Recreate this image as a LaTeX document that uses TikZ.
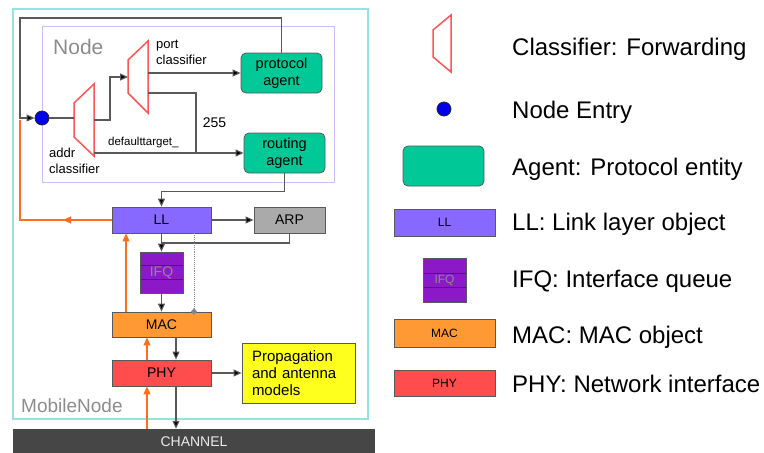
\documentclass[tikz,border=0pt]{standalone}
\usepackage{fontspec}
\setmainfont{Liberation Sans}
\usetikzlibrary{positioning,arrows.meta}

\definecolor{mobilecyan}{RGB}{150,225,225}
\definecolor{nodelilac}{RGB}{205,190,250}
\definecolor{classred}{RGB}{255,85,85}
\definecolor{entryblue}{RGB}{0,0,235}
\definecolor{agentgreen}{RGB}{0,200,150}
\definecolor{llblue}{RGB}{135,105,255}
\definecolor{arpgrey}{RGB}{170,170,170}
\definecolor{ifqpurple}{RGB}{140,25,200}
\definecolor{macorange}{RGB}{255,153,51}
\definecolor{phyred}{RGB}{255,77,77}
\definecolor{propyellow}{RGB}{255,255,30}
\definecolor{uporange}{RGB}{255,110,30}
\definecolor{chandark}{RGB}{70,70,70}

\begin{document}
\begin{tikzpicture}[x=1pt,y=-1pt,
  box/.style={draw=black!65,line width=0.8pt,minimum width=99pt,minimum height=26pt,inner sep=0pt,font=\fontsize{14}{16}\selectfont},
  agent/.style={box,fill=agentgreen,rounded corners=5pt,minimum width=81pt,minimum height=40pt,align=center,font=\fontsize{14.5}{17}\selectfont},
  queue/.style={box,fill=ifqpurple,minimum width=43pt,minimum height=41pt,text=black!45,
    path picture={\draw[black!80,line width=0.8pt] ([yshift=7pt]path picture bounding box.west) -- ([yshift=7pt]path picture bounding box.east);
      \draw[black!80,line width=0.8pt] ([yshift=-7pt]path picture bounding box.west) -- ([yshift=-7pt]path picture bounding box.east);}},
  entrydot/.style={circle,draw=black!85,line width=0.8pt,fill=entryblue,minimum size=14pt,inner sep=0pt},
  classifier/.style={draw=classred,line width=1.5pt,line join=miter},
  wire/.style={draw=black!65,line width=1.1pt},
  flow/.style={wire,-{Triangle[length=8pt,width=7pt,fill=black]}},
  upflow/.style={draw=uporange,line width=1.1pt,-{Triangle[length=8pt,width=7pt]}},
  tag/.style={font=\fontsize{13}{16}\selectfont,align=left,inner sep=0pt},
  legendtext/.style={anchor=base west,font=\fontsize{24}{28}\selectfont,inner sep=0pt}]

\useasboundingbox (0,0) rectangle (764,453);

% Frames of the mobile node and of the node
\draw[mobilecyan,line width=1.2pt] (13,9) rectangle (368,419);
\draw[nodelilac,line width=1pt] (42,26) rectangle (334,182);
\node[anchor=west,text=black!45,font=\fontsize{21}{24}\selectfont,inner sep=0pt] (nodelabel) at (53,47) {Node};
\node[anchor=west,text=black!45,font=\fontsize{19}{22}\selectfont,inner sep=0pt] (mobilelabel) at (21,406) {MobileNode};

% Classifiers
\draw[classifier] (74,103) -- (94,84) -- (94,156) -- (74,137) -- cycle;
\draw[classifier] (128,60) -- (148,41) -- (148,113) -- (128,93) -- cycle;
\coordinate (addr-in) at (74,118);
\coordinate (addr-out) at (94,120);
\coordinate (addr-def) at (94,153);
\coordinate (port-in) at (128,77);
\coordinate (port-out) at (148,73);
\coordinate (port-low) at (148,93);
\coordinate (join) at (196,153);
\node[tag,anchor=west] (porttag) at (156,52) {port\\classifier};
\node[tag,anchor=west] (addrtag) at (49,161) {addr\\classifier};

% Entry and agents
\node[entrydot] (entry) at (42,118) {};
\node[agent] (protocol) at (281.5,73) {protocol\\agent};
\node[agent] (routing) at (284.5,153) {routing\\agent};

% Link layer stack
\node[box,fill=llblue] (LL) at (161.5,220) {LL};
\node[box,fill=arpgrey,minimum width=71pt] (ARP) at (289.5,220) {ARP};
\node[queue] (IFQ) at (161.5,272.5) {IFQ};
\node[box,fill=macorange,minimum height=25pt] (MAC) at (161.5,324.5) {MAC};
\node[box,fill=phyred] (PHY) at (161.5,373) {PHY};
\node[box,fill=propyellow,minimum width=113pt,minimum height=60pt,align=left,text width=93pt,font=\fontsize{15}{17}\selectfont] (prop) at (298.5,373) {Propagation\\and antenna\\models};
\node[fill=chandark,minimum width=362pt,minimum height=26pt,inner sep=0pt,text=black!8,font=\fontsize{14}{16}\selectfont] (channel) at (194,442) {CHANNEL};

% Orange path back to the entry
\coordinate (upturn) at (20,220);
\coordinate (uptop) at (20,120);
\coordinate (uparrow) at (63,220);
\draw[uporange,line width=1.1pt] (LL.west) -- (upturn) -- (uptop);
\draw[upflow] (LL.west) -- (uparrow);

% Connectors inside the node
\coordinate (loop) at (20,18);
\draw[flow] (protocol.north) |- (loop) |- (entry.west);
\draw[wire] (entry.east) -- (addr-in);
\draw[flow] (addr-out) -- ++(16,0) |- (port-in);
\draw[flow] (port-out) -- (protocol.west);
\draw[wire] (port-low) -| (join) node[pos=0.75,right=3pt,font=\fontsize{14}{16}\selectfont] {255};
\draw[flow] (addr-def) -- (routing.west) node[pos=0.33,above=1pt,font=\fontsize{11.5}{13}\selectfont] {defaulttarget\_};

% Connectors down the stack
\coordinate (arpjoin) at (161.5,243);
\draw[flow] (routing.south) -- ++(0,18) -| (LL.north);
\draw[flow] (LL.east) -- (ARP.west);
\draw[wire] (ARP.south) |- (arpjoin);
\draw[flow] (LL.south) -- (IFQ.north);
\draw[flow] (IFQ.south) -- (MAC.north);
\draw[black!45,densely dotted,line width=0.9pt,shorten >=-3.5pt,-{Diamond[length=7pt,width=6pt,fill=black!50]}] ([xshift=32.5pt]LL.south) -- ([xshift=32.5pt]MAC.north);
\draw[upflow] ([xshift=-35.5pt]MAC.north) -- ([xshift=-35.5pt]LL.south);
\draw[flow] ([xshift=14.5pt]MAC.south) -- ([xshift=14.5pt]PHY.north);
\draw[upflow] ([xshift=-14.5pt]PHY.north) -- ([xshift=-14.5pt]MAC.south);
\coordinate (phyin) at ([xshift=-14.5pt]PHY.south);
\coordinate (phyout) at ([xshift=14.5pt]PHY.south);
\draw[upflow] (phyin |- channel.north) -- (phyin);
\draw[flow] (phyout) -- (phyout |- channel.north);
\draw[flow] (PHY.east) -- (prop.west);

% Legend
\draw[classifier] (433,30) -- (451,15) -- (451,72) -- (433,57) -- cycle;
\node[entrydot] (legentry) at (444,109) {};
\node[agent] (legagent) at (443.5,166) {};
\node[box,fill=llblue,minimum width=101pt,minimum height=27pt,font=\fontsize{12}{14}\selectfont] (legLL) at (444.5,222.5) {LL};
\node[queue,minimum height=44pt,font=\fontsize{12}{14}\selectfont] (legIFQ) at (444.5,280) {IFQ};
\node[box,fill=macorange,minimum width=101pt,minimum height=28pt,font=\fontsize{12}{14}\selectfont] (legMAC) at (444.5,333) {MAC};
\node[box,fill=phyred,minimum width=101pt,minimum height=26pt,font=\fontsize{12}{14}\selectfont] (legPHY) at (444.5,383) {PHY};
\foreach \i/\y/\txt in {1/55/{Classifier: Forwarding},2/118/{Node Entry},3/175/{Agent: Protocol entity},
    4/230/{LL: Link layer object},5/287/{IFQ: Interface queue},6/343/{MAC: MAC object},7/392/{PHY: Network interface}}
    \node[legendtext] (legtext\i) at (512,\y) {\txt};
\end{tikzpicture}
\end{document}
